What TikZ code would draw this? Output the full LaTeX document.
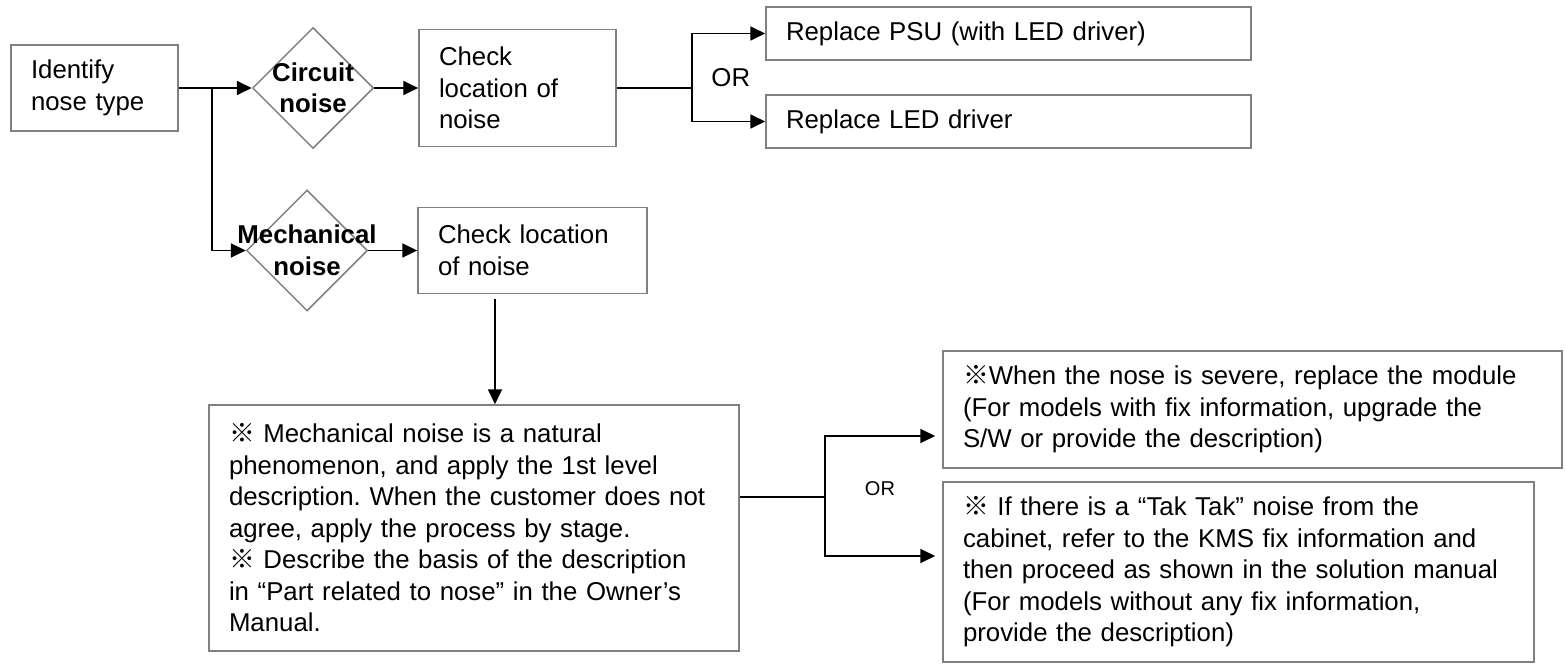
\documentclass[tikz,border=0pt]{standalone}
\usepackage{fontspec}
\setmainfont{Liberation Sans}
\newfontfamily\cjkfont{Noto Sans CJK JP}
\usetikzlibrary{arrows.meta,positioning,shapes.geometric}
\newcommand{\refmark}{{\cjkfont ※}}

\begin{document}
\begin{tikzpicture}[x=1pt, y=-1pt,
  >={Triangle[length=15pt,width=14pt]},
  box/.style={draw=gray, line width=1.5pt, align=left, inner xsep=20pt,
    inner ysep=0pt, font=\fontsize{25.8}{31.5}\selectfont\frenchspacing},
  dia/.style={diamond, draw=gray, line width=1.5pt, inner sep=0pt,
    minimum width=121pt, minimum height=121pt},
  dialabel/.style={align=center, inner sep=0pt,
    font=\fontsize{25.8}{31.5}\selectfont\bfseries},
  ornode/.style={anchor=west, inner sep=0pt, font=\fontsize{25.8}{31.5}\selectfont},
  link/.style={line width=1.8pt}
]
  \useasboundingbox (0,0) rectangle (1566,666);

  % upper branch
  \node[box, text width=127pt, minimum height=86pt] (ident) at (94.5,88)
    {Identify\\nose type};
  \node[dia, label={[dialabel]center:Circuit\\noise}] (circ) at (313,88) {};
  \node[box, text width=157pt, minimum height=117pt] (chk1) at (517.5,88)
    {Check\\location of\\noise};
  \node[box, text width=445pt, minimum height=53pt] (psu) at (1008.5,33.5)
    {Replace PSU (with LED driver)};
  \node[box, text width=445pt, minimum height=53pt, below=33.5pt of psu] (led)
    {Replace LED driver};

  % lower branch
  \node[dia, label={[dialabel]center:Mechanical\\noise}] (mech) at (307,250.5) {};
  \node[box, text width=189pt, minimum height=86pt] (chk2) at (532.5,250.5)
    {Check location\\of noise};
  \node[box, text width=490pt, minimum height=246pt] (big) at (474,528)
    {\refmark{} Mechanical noise is a natural\\
     phenomenon, and apply the 1st level\\
     description. When the customer does not\\
     agree, apply the process by stage.\\
     \refmark{} Describe the basis of the description\\
     in “Part related to nose” in the Owner’s\\
     Manual.};
  \node[box, text width=579pt, minimum height=117pt] (sev) at (1252.5,409.5)
    {\refmark{}When the nose is severe, replace the module\\
     (For models with fix information, upgrade the\\
     S/W or provide the description)};
  \node[box, text width=551pt, minimum height=180pt] (tak) at (1238.5,572)
    {\refmark{} If there is a “Tak Tak” noise from the\\
     cabinet, refer to the KMS fix information and\\
     then proceed as shown in the solution manual\\
     (For models without any fix information,\\
     provide the description)};

  % connectors
  \coordinate (split1) at ([xshift=33pt]ident.east);
  \draw[link,->] (ident.east) -- (circ.west);
  \draw[link,->] (split1) |- (mech.west);
  \draw[link,->] (circ.east) -- (chk1.west);
  \coordinate (split2) at ([xshift=75pt]chk1.east);
  \draw[link] (chk1.east) -- (split2);
  \draw[link,->] (split2) |- (psu.west);
  \draw[link,->] (split2) |- (led.west);
  \node[ornode] (or1) at ([xshift=19.5pt,yshift=10pt]split2) {OR};

  \draw[link,->] (mech.east) -- (chk2.west);
  \coordinate (drop) at ([xshift=-37.5pt]chk2.south);
  \draw[link,->,shorten <=5pt] (drop) -- (drop |- big.north);

  \coordinate (join) at ([yshift=31pt]big.east);
  \coordinate (split3) at ([xshift=85pt]join);
  \draw[link] (join) -- (split3);
  \draw[link,->,shorten >=7pt] (split3) |- ([yshift=-26.5pt]sev.west);
  \draw[link,->,shorten >=7pt] (split3) |- ([yshift=16pt]tak.west);
  \node[ornode, font=\fontsize{20}{24}\selectfont] (or2)
    at ([xshift=40pt,yshift=8pt]split3) {OR};
\end{tikzpicture}
\end{document}
